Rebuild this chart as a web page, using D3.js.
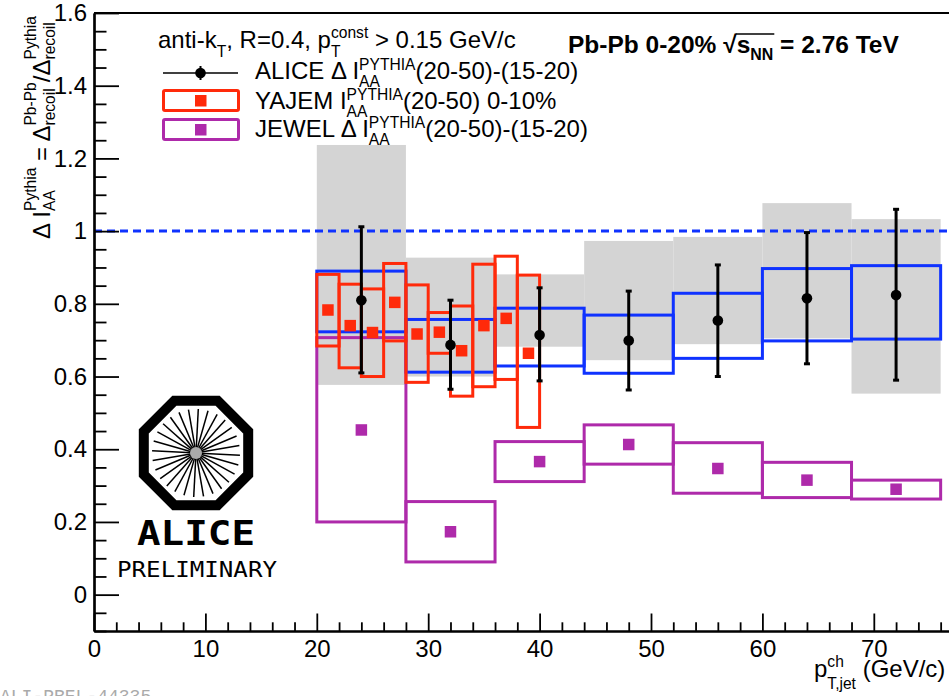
<!DOCTYPE html>
<html>
<head>
<meta charset="utf-8">
<script src="https://cdn.jsdelivr.net/npm/d3@7"></script>
<style>
body { margin: 0; background: #fff; }
svg { display: block; }
text { font-family: "Liberation Sans", Arial, Helvetica, sans-serif; white-space: pre; }
</style>
</head>
<body>
<div id="chart"></div>
<script>
const width = 949, height = 696

// axis ticks
const xTicks = [0, 10, 20, 30, 40, 50, 60, 70]
const yTicks = [0, 0.2, 0.4, 0.6, 0.8, 1, 1.2, 1.4, 1.6]

// ALICE bins (GeV/c)
const binLo = [20, 28, 36, 44, 52, 60, 68]
const binHi = [28, 36, 44, 52, 60, 68, 76]
const aliceY = [0.810, 0.687, 0.714, 0.699, 0.754, 0.815, 0.824]
const aliceErrHi = [1.012, 0.810, 0.844, 0.835, 0.907, 0.996, 1.060]
const aliceErrLo = [0.610, 0.565, 0.588, 0.563, 0.600, 0.635, 0.590]
// grey systematics
const sysHi = [1.237, 0.927, 0.881, 0.973, 0.984, 1.077, 1.033]
const sysLo = [0.577, 0.600, 0.682, 0.645, 0.689, 0.705, 0.553]
// blue open boxes
const blueHi = [0.890, 0.757, 0.788, 0.769, 0.829, 0.897, 0.905]
const blueLo = [0.723, 0.612, 0.629, 0.609, 0.650, 0.698, 0.703]

// JEWEL
const jewelY = [0.453, 0.173, 0.366, 0.413, 0.347, 0.315, 0.290]
const jewelHi = [0.707, 0.256, 0.421, 0.467, 0.418, 0.364, 0.315]
const jewelLo = [0.200, 0.090, 0.311, 0.359, 0.279, 0.267, 0.263]

// YAJEM
const yajemBinLo = [20, 22, 24, 26, 28, 30, 32, 34, 36, 38]
const yajemBinHi = [22, 24, 26, 28, 30, 32, 34, 36, 38, 40]
const yajemY = [0.783, 0.740, 0.721, 0.804, 0.717, 0.722, 0.671, 0.740, 0.760, 0.664]
const yajemHi = [0.881, 0.854, 0.841, 0.911, 0.852, 0.776, 0.794, 0.909, 0.931, 0.879]
const yajemLo = [0.684, 0.624, 0.600, 0.698, 0.584, 0.664, 0.546, 0.572, 0.592, 0.460]

const colBlue = "#0f32ff", colRed = "#ff2a0a", colPurple = "#ae2aaa", colGrey = "#d4d4d4"

var svg = d3.select("#chart").append("svg")
    .attr("width", width)
    .attr("height", height)
svg.append("rect").attr("width", width).attr("height", height).attr("fill", "#fff")

var xScale = d3.scaleLinear().domain([0, 76.75]).range([94, 949])
var yScale = d3.scaleLinear().domain([-0.1, 1.6]).range([631, 13])

// text with super/subscripts, laid out piece by piece
function rich(parent, parts, fs, opts)
{
    opts = opts || {}
    var sfs = fs * (opts.scale || 0.65)
    var supDy = opts.sup != null ? opts.sup : -0.4 * fs
    var subDy = opts.sub != null ? opts.sub : 0.33 * fs
    var g = parent.append("g")
    var cx = 0, marks = {}
    parts.forEach(function(p) {
        if (typeof p === "string") {
            var t = g.append("text").attr("x", cx).attr("y", 0)
                .style("font-size", fs + "px").text(p)
            if (opts.bold) t.style("font-weight", "bold")
            cx += t.node().getComputedTextLength()
        } else if (p.mark) {
            marks[p.mark] = cx
        } else {
            var w = 0
            if (p.sup) {
                var t1 = g.append("text").attr("x", cx).attr("y", supDy)
                    .style("font-size", sfs + "px").text(p.sup)
                if (opts.bold) t1.style("font-weight", "bold")
                w = Math.max(w, t1.node().getComputedTextLength())
            }
            if (p.sub) {
                var t2 = g.append("text").attr("x", cx).attr("y", subDy)
                    .style("font-size", sfs + "px").text(p.sub)
                if (opts.bold) t2.style("font-weight", "bold")
                w = Math.max(w, t2.node().getComputedTextLength())
            }
            cx += w
        }
    })
    return {g: g, width: cx, marks: marks}
}

function boxes(lo, hi, ylo, yhi)
{
    return svg.append("g").selectAll("rect")
        .data(lo)
        .enter()
        .append("rect")
        .attr("x", function(d, i) { return xScale(lo[i]) })
        .attr("y", function(d, i) { return yScale(yhi[i]) })
        .attr("width", function(d, i) { return xScale(hi[i]) - xScale(lo[i]) })
        .attr("height", function(d, i) { return yScale(ylo[i]) - yScale(yhi[i]) })
}

function squares(lo, hi, vals, col)
{
    var s = 11.5
    svg.append("g").selectAll("rect")
        .data(vals)
        .enter()
        .append("rect")
        .attr("x", function(d, i) { return xScale((lo[i] + hi[i]) / 2) - s / 2 })
        .attr("y", function(d) { return yScale(d) - s / 2 })
        .attr("width", s)
        .attr("height", s)
        .attr("fill", col)
}

// grey systematic boxes
boxes(binLo, binHi, sysLo, sysHi).attr("fill", colGrey)

// unity line
svg.append("line")
    .attr("x1", xScale(0)).attr("x2", width)
    .attr("y1", yScale(1)).attr("y2", yScale(1))
    .attr("stroke", colBlue).attr("stroke-width", 3)
    .attr("stroke-dasharray", "8,5")

boxes(binLo, binHi, blueLo, blueHi)
    .attr("fill", "none").attr("stroke", colBlue).attr("stroke-width", 3)
boxes(binLo, binHi, jewelLo, jewelHi)
    .attr("fill", "none").attr("stroke", colPurple).attr("stroke-width", 3)
boxes(yajemBinLo, yajemBinHi, yajemLo, yajemHi)
    .attr("fill", "none").attr("stroke", colRed).attr("stroke-width", 3)

squares(binLo, binHi, jewelY, colPurple)
squares(yajemBinLo, yajemBinHi, yajemY, colRed)

// ALICE points
var ctr = binLo.map(function(d, i) { return (binLo[i] + binHi[i]) / 2 })
var pts = svg.append("g")
pts.selectAll("line.err")
    .data(ctr)
    .enter()
    .append("line")
    .attr("x1", function(d) { return xScale(d) })
    .attr("x2", function(d) { return xScale(d) })
    .attr("y1", function(d, i) { return yScale(aliceErrHi[i]) })
    .attr("y2", function(d, i) { return yScale(aliceErrLo[i]) })
    .attr("stroke", "#000").attr("stroke-width", 3)
var caps = ctr.map(function(d, i) { return [d, aliceErrHi[i]] })
    .concat(ctr.map(function(d, i) { return [d, aliceErrLo[i]] }))
pts.selectAll("line.cap")
    .data(caps)
    .enter()
    .append("line")
    .attr("x1", function(d) { return xScale(d[0]) - 3 })
    .attr("x2", function(d) { return xScale(d[0]) + 3 })
    .attr("y1", function(d) { return yScale(d[1]) })
    .attr("y2", function(d) { return yScale(d[1]) })
    .attr("stroke", "#000").attr("stroke-width", 3)
pts.selectAll("circle")
    .data(ctr)
    .enter()
    .append("circle")
    .attr("cx", function(d) { return xScale(d) })
    .attr("cy", function(d, i) { return yScale(aliceY[i]) })
    .attr("r", 5.3)
    .attr("fill", "#000")

// axes
var minorX = d3.range(0, 77, 2).filter(function(d) { return d % 10 != 0 })
var minorY = d3.range(0, 35).map(function(i) { return Math.round((i * 0.05 - 0.1) * 100) / 100 })
    .filter(function(d) { return Math.abs(Math.round(d * 5) - d * 5) > 1e-6 })

var xAxis = d3.axisBottom(xScale).tickValues(xTicks).tickSize(-17.5).tickSizeOuter(0).tickPadding(9)
var yAxis = d3.axisLeft(yScale).tickValues(yTicks).tickSize(-25).tickSizeOuter(0).tickPadding(7)
    .tickFormat(function(d) { return String(d) })

var xg = svg.append("g").attr("transform", "translate(0," + yScale(-0.1) + ")").call(xAxis)
svg.append("g").attr("transform", "translate(0," + yScale(-0.1) + ")")
    .call(d3.axisBottom(xScale).tickValues(minorX).tickSize(-8.7).tickSizeOuter(0).tickFormat(""))
var yg = svg.append("g").attr("transform", "translate(" + xScale(0) + ",0)").call(yAxis)
svg.append("g").attr("transform", "translate(" + xScale(0) + ",0)")
    .call(d3.axisLeft(yScale).tickValues(minorY).tickSize(-12.5).tickSizeOuter(0).tickFormat(""))

svg.selectAll(".domain").attr("stroke", "#000").attr("stroke-width", 2.2)
svg.selectAll(".tick line").attr("stroke", "#000").attr("stroke-width", 1.8)
svg.selectAll(".tick text").style("font-size", "24px")
    .style("font-family", "'Liberation Sans', Arial, sans-serif").attr("fill", "#000")

// frame top
svg.append("line")
    .attr("x1", xScale(0)).attr("x2", width)
    .attr("y1", yScale(1.6)).attr("y2", yScale(1.6))
    .attr("stroke", "#000").attr("stroke-width", 2)

// axis titles
var xt = rich(svg, ["p", {sup: "ch", sub: "T,jet"}, " (GeV/c)"], 24, {sup: -10, sub: 12})
xt.g.attr("transform", "translate(814,677)")

var yt = rich(svg, ["\u0394 I", {sup: "Pythia", sub: "AA"}, " = \u0394", {sup: "Pb-Pb", sub: "recoil"},
    "/\u0394", {sup: "Pythia", sub: "recoil"}], 24, {sup: -14, sub: 5})
yt.g.attr("transform", "translate(50," + (13 + 226) + ") rotate(-90)")

// legend
var l1 = rich(svg, ["anti-k", {sub: "T"}, ", R=0.4, p", {sup: "const", sub: "T"}, " > 0.15 GeV/c"], 24,
    {sup: -10, sub: 9})
l1.g.attr("transform", "translate(158,48)")
var l2 = rich(svg, ["ALICE \u0394 I", {sup: "PYTHIA", sub: "AA"}, "(20-50)-(15-20)"], 24, {sup: -9, sub: 8})
l2.g.attr("transform", "translate(255,79)")
var l3 = rich(svg, ["YAJEM I", {sup: "PYTHIA", sub: "AA"}, "(20-50) 0-10%"], 24, {sup: -9, sub: 8})
l3.g.attr("transform", "translate(255,109)")
var l4 = rich(svg, ["JEWEL \u0394 I", {sup: "PYTHIA", sub: "AA"}, "(20-50)-(15-20)"], 24, {sup: -9, sub: 8})
l4.g.attr("transform", "translate(255,137)")

var lg = svg.append("g")
lg.append("line").attr("x1", 163).attr("x2", 238).attr("y1", 73).attr("y2", 73)
    .attr("stroke", "#000").attr("stroke-width", 1.5)
lg.append("line").attr("x1", 200.5).attr("x2", 200.5).attr("y1", 66).attr("y2", 80)
    .attr("stroke", "#000").attr("stroke-width", 2)
lg.append("circle").attr("cx", 200.5).attr("cy", 73).attr("r", 5.3).attr("fill", "#000")
lg.append("rect").attr("x", 163.5).attr("y", 90.5).attr("width", 75).attr("height", 20)
    .attr("fill", "none").attr("stroke", colRed).attr("stroke-width", 3).attr("rx", 1.5)
lg.append("rect").attr("x", 195).attr("y", 95).attr("width", 11.5).attr("height", 11.5).attr("fill", colRed)
lg.append("rect").attr("x", 163.5).attr("y", 119.5).attr("width", 75).attr("height", 20)
    .attr("fill", "none").attr("stroke", colPurple).attr("stroke-width", 3).attr("rx", 1.5)
lg.append("rect").attr("x", 195).attr("y", 124).attr("width", 11.5).attr("height", 11.5).attr("fill", colPurple)

// system label
var tt = rich(svg, ["Pb-Pb 0-20% ", "\u221A", {mark: "a"}, "s", {sub: "NN"}, {mark: "b"}, " = 2.76 TeV"], 24.5,
    {bold: true, sub: 7})
tt.g.attr("transform", "translate(568,53)")
tt.g.append("line").attr("x1", tt.marks.a - 1).attr("x2", tt.marks.b + 1)
    .attr("y1", -19).attr("y2", -19).attr("stroke", "#000").attr("stroke-width", 1.6)

// ALICE logo
var logo = svg.append("g").attr("transform", "translate(196,453)")
var octR = 56.5
var oct = d3.range(8).map(function(k) {
    var a = (22.5 + 45 * k) * Math.PI / 180
    return [octR * Math.cos(a), octR * Math.sin(a)]
})
logo.append("path")
    .attr("d", d3.line()(oct) + "Z")
    .attr("fill", "none").attr("stroke", "#000").attr("stroke-width", 10)
    .attr("stroke-linejoin", "miter")
d3.range(28).forEach(function(k) {
    var a = (k * 360 / 28 + 3) * Math.PI / 180
    logo.append("line")
        .attr("x1", 4 * Math.cos(a)).attr("y1", 4 * Math.sin(a))
        .attr("x2", 44 * Math.cos(a)).attr("y2", 44 * Math.sin(a))
        .attr("stroke", "#000").attr("stroke-width", 1.5)
})
logo.append("circle").attr("r", 6).attr("fill", "#aaa")

svg.append("text").attr("x", 137).attr("y", 545)
    .attr("textLength", 118).attr("lengthAdjust", "spacingAndGlyphs")
    .style("font-family", "'DejaVu Sans Mono', monospace").style("font-size", "34px")
    .style("font-weight", "bold").text("ALICE")
svg.append("text").attr("x", 117).attr("y", 577)
    .attr("textLength", 160).attr("lengthAdjust", "spacingAndGlyphs")
    .style("font-family", "'DejaVu Sans Mono', monospace").style("font-size", "21px")
    .text("PRELIMINARY")

svg.append("text").attr("x", 0).attr("y", 702)
    .style("font-family", "'Liberation Mono', monospace").style("font-size", "18px")
    .attr("fill", "#aaa").text("ALI-PREL-44335")
</script>
</body>
</html>
